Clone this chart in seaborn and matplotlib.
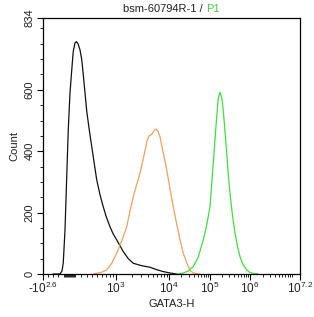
import numpy as np
import pandas as pd
import matplotlib
matplotlib.use("Agg")
import matplotlib.pyplot as plt
import seaborn as sns

# ---- data (x in display channel units 0..1028, y = count) ----
black_x = [40, 68, 76, 81, 88, 95, 101, 108, 115, 121, 128, 134, 141, 148, 155, 161, 168, 175, 185,
           195, 205, 215, 228, 241, 254, 268, 281, 295, 308, 321, 341, 361, 395, 428, 455, 480, 510, 535]
black_y = [0, 0, 10, 36, 143, 320, 469, 590, 665, 725, 753, 757, 748, 730, 698, 650, 590, 530, 470,
           415, 360, 306, 258, 219, 184, 154, 130, 111, 92, 73, 50, 35, 27, 22, 14, 8, 3, 0]

orange_x = [200, 215, 235, 255, 275, 295, 315, 335, 348, 361, 375, 388, 401, 415, 424, 435, 445, 452,
            460, 468, 481, 495, 508, 521, 535, 548, 561, 575, 588, 600, 615, 630]
orange_y = [0, 2, 6, 13, 35, 68, 108, 154, 205, 252, 292, 329, 375, 430, 450, 455, 468, 472,
            465, 447, 395, 339, 278, 219, 162, 111, 68, 36, 12, 4, 1, 0]

green_x = [530, 545, 561, 581, 601, 621, 641, 655, 668, 681, 688, 695, 701, 708, 715, 721, 728,
           735, 741, 748, 758, 768, 778, 788, 801, 815, 828, 841, 860]
green_y = [0, 1, 3, 10, 24, 55, 111, 160, 219, 361, 440, 513, 572, 592, 575, 534, 465, 393, 325,
           263, 190, 133, 90, 56, 30, 13, 5, 2, 0]

sample_names = ["isotype", "control", "P1"]
line_colors = ["#111111", "#f0a060", "#40dd40"]

xtick_pos = [0, 292, 504, 668, 828, 1028]
xtick_labels = [r"-$10^{2.6}$", r"$10^{3}$", r"$10^{4}$", r"$10^{5}$", r"$10^{6}$", r"$10^{7.2}$"]
ytick_vals = [0, 200, 400, 600, 834]

title_main = "bsm-60794R-1 / "
title_gate = "P1"
x_label = "GATA3-H"
y_label = "Count"

# ---- build table ----
frames = []
for name, xs, ys in zip(sample_names, [black_x, orange_x, green_x], [black_y, orange_y, green_y]):
    frames.append(pd.DataFrame({"x": xs, "y": ys, "sample": name}))
df = pd.concat(frames, ignore_index=True)

sns.set_style("ticks")
plt.rcParams["font.family"] = ["Liberation Sans", "DejaVu Sans"]
plt.rcParams["mathtext.fontset"] = "custom"
plt.rcParams["mathtext.rm"] = "Liberation Sans"
plt.rcParams["mathtext.it"] = "Liberation Sans"

fig = plt.figure(figsize=(3.14, 3.17), dpi=100)
ax = fig.add_axes([43 / 314, 1 - 274 / 317, 257 / 314, 256 / 317])

sns.lineplot(data=df, x="x", y="y", hue="sample", palette=dict(zip(sample_names, line_colors)),
             sort=False, estimator=None, units="sample", lw=0.9, legend=False, ax=ax)

ax.set_xlim(0, 1028)
ax.set_ylim(0, 834)

# x ticks
ax.set_xticks(xtick_pos)
ax.set_xticklabels(xtick_labels, fontsize=8.5, color="#222222")
# minor ticks: linear region near zero, then log minors per decade
minor = [20, 40, 60, 84, 88, 92, 96, 100, 104, 108, 112, 116, 120, 124, 128,
         150, 176, 196, 216, 236, 252, 268, 280]
decades = [(292, 504), (504, 668), (668, 828)]
for a, b in decades:
    for m in range(2, 10):
        minor.append(a + (b - a) * np.log10(m))
span6 = (1028 - 828) / 1.2
for m in range(2, 10):
    minor.append(828 + span6 * np.log10(m))
minor.append(828 + span6)
ax.set_xticks(minor, minor=True)

# y ticks
ax.set_yticks(ytick_vals)
ax.set_yticklabels([str(v) for v in ytick_vals], fontsize=8, rotation=90, va="center", color="#222222")
ax.set_yticks(np.arange(0, 834, 50), minor=True)

ax.tick_params(axis="both", which="major", direction="out", length=4, width=0.8, color="black", pad=2)
ax.tick_params(axis="both", which="minor", direction="out", length=2.5, width=0.6, color="black")
ax.tick_params(axis="x", which="major", pad=1)

for s in ax.spines.values():
    s.set_visible(True)
    s.set_linewidth(0.9)
    s.set_color("black")

ax.set_xlabel(x_label, fontsize=8, labelpad=2, color="#222222")
ax.set_ylabel(y_label, fontsize=8, labelpad=4, color="#222222")

# title with coloured gate name
t1 = fig.text(0.5, 1 - 9 / 317, title_main, ha="left", va="center", fontsize=8, color="#222222")
t2 = fig.text(0.5, 1 - 9 / 317, title_gate, ha="left", va="center", fontsize=8, color="#40cc40")
fig.canvas.draw()
r = fig.canvas.get_renderer()
w1 = t1.get_window_extent(r).width
w2 = t2.get_window_extent(r).width
cx = (43 + 300) / 2
t1.set_x((cx - (w1 + w2) / 2) / 314)
t2.set_x((cx - (w1 + w2) / 2 + w1) / 314)

fig.savefig("out.png", dpi=100)
